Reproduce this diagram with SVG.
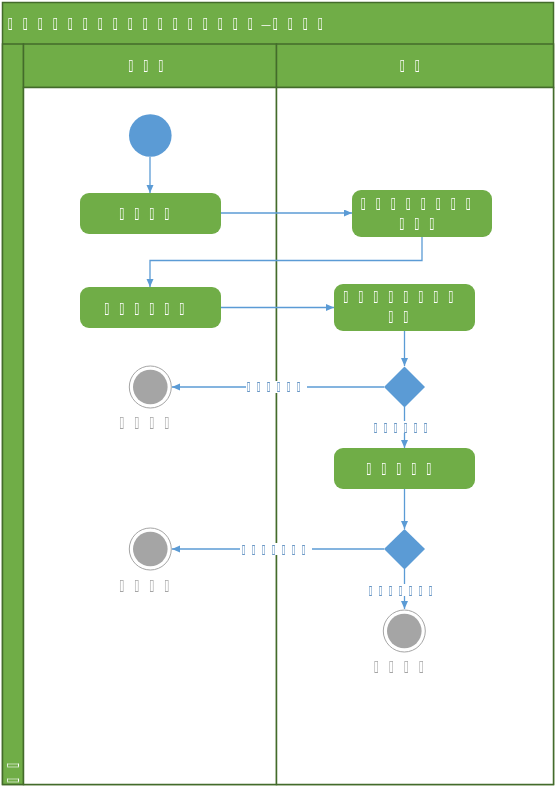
<svg xmlns="http://www.w3.org/2000/svg" width="555" height="787" viewBox="0 0 555 787">
<style>
.frame{fill:#70ad47;stroke:#436b2b;stroke-width:1.5}
.lane{fill:#ffffff;stroke:#436b2b;stroke-width:1.5}
.act{fill:#70ad47;stroke:none}
.dec{fill:#5b9bd5}
.start{fill:#5b9bd5}
.endo{fill:none;stroke:#a5a5a5;stroke-width:1}
.endi{fill:#a5a5a5}
.c{fill:none;stroke:#5b9bd5;stroke-width:1.3}
.t,.lb,.el{font-family:"DejaVu Sans",sans-serif;text-anchor:middle;dominant-baseline:central;filter:url(#nf)}
.t{font-size:16px;fill:#ffffff}
.lb{font-size:12px;fill:#3c78b4}
.el{font-size:16px;fill:#a5a5a5}
.bg{fill:#ffffff}
</style>
<defs>
<filter id="nf" x="-20%" y="-50%" width="140%" height="200%"><feOffset dx="0" dy="0"/></filter>
<marker id="arr" markerUnits="userSpaceOnUse" markerWidth="9" markerHeight="8" refX="8" refY="3.5" orient="auto">
<path d="M0,0 L8,3.5 L0,7 z" fill="#5b9bd5"/>
</marker>
</defs>
<g id="pool">
<rect class="frame" x="2.5" y="2.5" width="551" height="782"/>
<rect class="frame" x="2.5" y="44" width="21" height="740.5"/>
<rect class="frame" x="23.5" y="44" width="253" height="43.5"/>
<rect class="frame" x="276.5" y="44" width="277" height="43.5"/>
<rect class="lane" x="23.5" y="87.5" width="253" height="697"/>
<rect class="lane" x="276.5" y="87.5" width="277" height="697"/>
<text class="t" y="23" transform="translate(10.5,0) scale(0.6,1)" x="0 25 50 75 100 125 150 175 200 225 250 275 300 325 350 375 400">▯▯▯▯▯▯▯▯▯▯▯▯▯▯▯▯▯</text>
<text class="t" y="24" x="266" style="font-size:10px">—</text>
<text class="t" y="23" transform="translate(275.5,0) scale(0.6,1)" x="0 25 50 75">▯▯▯▯</text>
<text class="t" y="65" transform="translate(131,0) scale(0.6,1)" x="0 25 50">▯▯▯</text>
<text class="t" y="65" transform="translate(402.5,0) scale(0.6,1)" x="0 25">▯▯</text>
<text class="t" transform="translate(12,772.5) rotate(-90) scale(0.6,1)" x="-12.5 12.5" y="0">▯▯</text>
</g>
<g id="connectors">
<line class="c" x1="150" y1="157" x2="150" y2="193" marker-end="url(#arr)"/>
<line class="c" x1="220" y1="213" x2="352" y2="213" marker-end="url(#arr)"/>
<polyline class="c" points="422,237 422,260.5 150,260.5 150,287" marker-end="url(#arr)"/>
<line class="c" x1="220" y1="307.5" x2="334" y2="307.5" marker-end="url(#arr)"/>
<line class="c" x1="404.5" y1="330" x2="404.5" y2="366" marker-end="url(#arr)"/>
<line class="c" x1="384" y1="387" x2="172" y2="387" marker-end="url(#arr)"/>
<line class="c" x1="404.5" y1="407" x2="404.5" y2="448" marker-end="url(#arr)"/>
<line class="c" x1="404.5" y1="488" x2="404.5" y2="529" marker-end="url(#arr)"/>
<line class="c" x1="384" y1="549" x2="172" y2="549" marker-end="url(#arr)"/>
<line class="c" x1="404.5" y1="569" x2="404.5" y2="609" marker-end="url(#arr)"/>
<rect class="bg" x="246" y="381" width="61" height="12"/>
<text class="lb" y="386" transform="translate(248.5,0) scale(0.6,1)" x="0 16.67 33.33 50 66.67 83.33">▯▯▯▯▯▯</text>
<rect class="bg" x="370" y="421" width="61" height="12"/>
<text class="lb" y="427" transform="translate(375.5,0) scale(0.6,1)" x="0 16.67 33.33 50 66.67 83.33">▯▯▯▯▯▯</text>
<rect class="bg" x="240" y="543" width="72" height="12"/>
<text class="lb" y="549" transform="translate(243.5,0) scale(0.6,1)" x="0 16.67 33.33 50 66.67 83.33 100">▯▯▯▯▯▯▯</text>
<rect class="bg" x="365" y="584" width="71" height="12"/>
<text class="lb" y="590" transform="translate(370.5,0) scale(0.6,1)" x="0 16.67 33.33 50 66.67 83.33 100">▯▯▯▯▯▯▯</text>
</g>
<g id="start">
<circle class="start" cx="150.3" cy="135.5" r="21.3"/>
</g>
<g id="act1">
<rect class="act" x="80" y="193" width="141" height="41" rx="9"/>
<text class="t" y="213" transform="translate(122,0) scale(0.6,1)" x="0 25 50 75">▯▯▯▯</text>
</g>
<g id="act2">
<rect class="act" x="352" y="190" width="140" height="47" rx="9"/>
<text class="t" y="202.5" transform="translate(363.5,0) scale(0.6,1)" x="0 25 50 75 100 125 150 175">▯▯▯▯▯▯▯▯</text>
<text class="t" y="222.5" transform="translate(402,0) scale(0.6,1)" x="0 25 50">▯▯▯</text>
</g>
<g id="act3">
<rect class="act" x="80" y="287" width="141" height="41" rx="9"/>
<text class="t" y="307.5" transform="translate(107,0) scale(0.6,1)" x="0 25 50 75 100 125">▯▯▯▯▯▯</text>
</g>
<g id="act4">
<rect class="act" x="334" y="284" width="141" height="47" rx="9"/>
<text class="t" y="296" transform="translate(346,0) scale(0.6,1)" x="0 25 50 75 100 125 150 175">▯▯▯▯▯▯▯▯</text>
<text class="t" y="316" transform="translate(391,0) scale(0.6,1)" x="0 25">▯▯</text>
</g>
<g id="dec1">
<polygon class="dec" points="404.5,366.5 425,387 404.5,407.5 384,387"/>
</g>
<g id="end1">
<circle class="endo" cx="150.3" cy="387" r="21"/>
<circle class="endi" cx="150.3" cy="387" r="17.3"/>
<text class="el" y="421.5" transform="translate(122,0) scale(0.6,1)" x="0 25 50 75">▯▯▯▯</text>
</g>
<g id="act5">
<rect class="act" x="334" y="448" width="141" height="41" rx="9"/>
<text class="t" y="467.5" transform="translate(369,0) scale(0.6,1)" x="0 25 50 75 100">▯▯▯▯▯</text>
</g>
<g id="dec2">
<polygon class="dec" points="404.5,529 425,549 404.5,569.5 384,549"/>
</g>
<g id="end2">
<circle class="endo" cx="150.3" cy="549" r="21"/>
<circle class="endi" cx="150.3" cy="549" r="17.3"/>
<text class="el" y="585" transform="translate(122,0) scale(0.6,1)" x="0 25 50 75">▯▯▯▯</text>
</g>
<g id="end3">
<circle class="endo" cx="404.3" cy="631" r="21"/>
<circle class="endi" cx="404.3" cy="631" r="17.3"/>
<text class="el" y="666" transform="translate(376.5,0) scale(0.6,1)" x="0 25 50 75">▯▯▯▯</text>
</g>
</svg>
